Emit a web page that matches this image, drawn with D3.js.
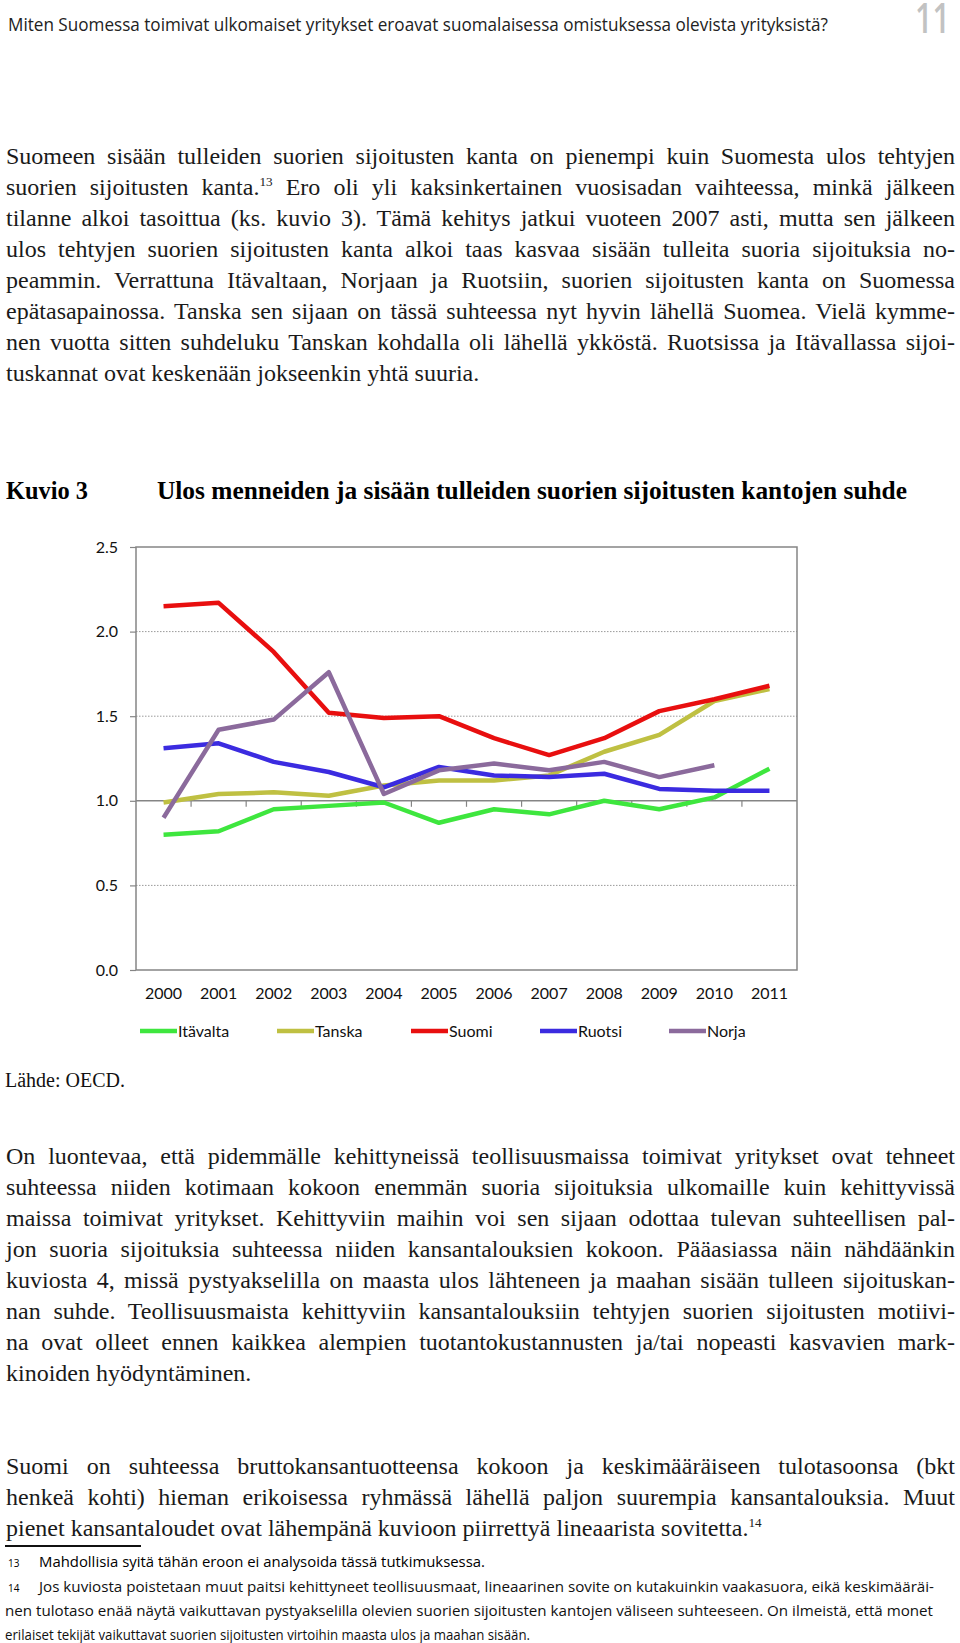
<!DOCTYPE html>
<html>
<head>
<meta charset="utf-8">
<script src="https://cdn.jsdelivr.net/npm/d3@7"></script>
<style>
  body { margin: 0; background: #fff; }
  svg { display: block; }
</style>
</head>
<body>
<div id="page"></div>
<script>
// Kuvio 3 data (OECD)
const years = [2000, 2001, 2002, 2003, 2004, 2005, 2006, 2007, 2008, 2009, 2010, 2011];
const itavalta = [0.80, 0.82, 0.95, 0.97, 0.99, 0.87, 0.95, 0.92, 1.00, 0.95, 1.02, 1.19];
const tanska   = [0.99, 1.04, 1.05, 1.03, 1.09, 1.12, 1.12, 1.15, 1.29, 1.39, 1.59, 1.66];
const suomi    = [2.15, 2.17, 1.88, 1.52, 1.49, 1.50, 1.37, 1.27, 1.37, 1.53, 1.60, 1.68];
const ruotsi   = [1.31, 1.34, 1.23, 1.17, 1.08, 1.20, 1.15, 1.14, 1.16, 1.07, 1.06, 1.06];
const norja    = [0.90, 1.42, 1.48, 1.76, 1.04, 1.18, 1.22, 1.18, 1.23, 1.14, 1.21, null];
const seriesNames = ["Itävalta", "Tanska", "Suomi", "Ruotsi", "Norja"];
const seriesColors = ["#3ee63e", "#bfc042", "#e80f0f", "#3b2be0", "#8b6a9c"];
const yTicks = [0, 0.5, 1.0, 1.5, 2.0, 2.5];

// page texts
const headerText = "Miten Suomessa toimivat ulkomaiset yritykset eroavat suomalaisessa omistuksessa olevista yrityksistä?";
const para1 = [
  "Suomeen sisään tulleiden suorien sijoitusten kanta on pienempi kuin Suomesta ulos tehtyjen",
  "suorien sijoitusten kanta.^13 Ero oli yli kaksinkertainen vuosisadan vaihteessa, minkä jälkeen",
  "tilanne alkoi tasoittua (ks. kuvio 3). Tämä kehitys jatkui vuoteen 2007 asti, mutta sen jälkeen",
  "ulos tehtyjen suorien sijoitusten kanta alkoi taas kasvaa sisään tulleita suoria sijoituksia no-",
  "peammin. Verrattuna Itävaltaan, Norjaan ja Ruotsiin, suorien sijoitusten kanta on Suomessa",
  "epätasapainossa. Tanska sen sijaan on tässä suhteessa nyt hyvin lähellä Suomea. Vielä kymme-",
  "nen vuotta sitten suhdeluku Tanskan kohdalla oli lähellä ykköstä. Ruotsissa ja Itävallassa sijoi-",
  "tuskannat ovat keskenään jokseenkin yhtä suuria."
];
const para2 = [
  "On luontevaa, että pidemmälle kehittyneissä teollisuusmaissa toimivat yritykset ovat tehneet",
  "suhteessa niiden kotimaan kokoon enemmän suoria sijoituksia ulkomaille kuin kehittyvissä",
  "maissa toimivat yritykset. Kehittyviin maihin voi sen sijaan odottaa tulevan suhteellisen pal-",
  "jon suoria sijoituksia suhteessa niiden kansantalouksien kokoon. Pääasiassa näin nähdäänkin",
  "kuviosta 4, missä pystyakselilla on maasta ulos lähteneen ja maahan sisään tulleen sijoituskan-",
  "nan suhde. Teollisuusmaista kehittyviin kansantalouksiin tehtyjen suorien sijoitusten motiivi-",
  "na ovat olleet ennen kaikkea alempien tuotantokustannusten ja/tai nopeasti kasvavien mark-",
  "kinoiden hyödyntäminen."
];
const para3 = [
  "Suomi on suhteessa bruttokansantuotteensa kokoon ja keskimääräiseen tulotasoonsa (bkt",
  "henkeä kohti) hieman erikoisessa ryhmässä lähellä paljon suurempia kansantalouksia. Muut",
  "pienet kansantaloudet ovat lähempänä kuvioon piirrettyä lineaarista sovitetta.^14"
];
const note13 = "Mahdollisia syitä tähän eroon ei analysoida tässä tutkimuksessa.";
const note14 = [
  "Jos kuviosta poistetaan muut paitsi kehittyneet teollisuusmaat, lineaarinen sovite on kutakuinkin vaakasuora, eikä keskimääräi-",
  "nen tulotaso enää näytä vaikuttavan pystyakselilla olevien suorien sijoitusten kantojen väliseen suhteeseen. On ilmeistä, että monet",
  "erilaiset tekijät vaikuttavat suorien sijoitusten virtoihin maasta ulos ja maahan sisään."
];

const width = 960, height = 1643;
const svg = d3.select("#page").append("svg")
  .attr("width", width)
  .attr("height", height);

const serif = "'Liberation Serif', 'Times New Roman', serif";
const sans = "'Open Sans', 'DejaVu Sans', sans-serif";
const chartFont = "Lato, 'Open Sans', sans-serif";

// header
svg.append("text")
  .attr("x", 8).attr("y", 31)
  .attr("font-family", sans).attr("font-size", 18)
  .attr("textLength", 820).attr("lengthAdjust", "spacingAndGlyphs")
  .attr("fill", "#222")
  .text(headerText);
// sivunumero
svg.append("text")
  .attr("x", 950).attr("y", 33)
  .attr("text-anchor", "end")
  .attr("font-family", sans).attr("font-size", 42).attr("font-weight", 600)
  .attr("textLength", 35).attr("lengthAdjust", "spacingAndGlyphs")
  .attr("fill", "#c2c2c2")
  .text("11");

// kappale: rivit tasattuna molempiin reunoihin, viimeinen rivi vasemmalle
function paragraph(lines, x0, x1, y0, step, size, font) {
  lines.forEach(function(line, i) {
    const t = svg.append("text")
      .attr("x", x0).attr("y", y0 + i * step)
      .attr("font-family", font).attr("font-size", size)
      .attr("fill", "#1a1a1a");
    const parts = line.split(/\^(\d+)/);
    let back = 0;
    parts.forEach(function(p, k) {
      if (k % 2 == 1) {
        t.append("tspan").attr("dy", -size * 0.38).attr("font-size", size * 0.55).text(p);
        back = size * 0.38;
      } else if (p.length) {
        t.append("tspan").attr("dy", back).text(p);
        back = 0;
      }
    });
    if (i < lines.length - 1) {
      const w = t.node().getComputedTextLength();
      const spaces = line.split(" ").length - 1;
      if (spaces > 0) t.attr("word-spacing", (x1 - x0 - w) / spaces);
    }
  });
}

paragraph(para1, 6, 955, 164, 31, 24, serif);

// chart title
svg.append("text")
  .attr("x", 6).attr("y", 499)
  .attr("font-family", serif).attr("font-weight", "bold").attr("font-size", 25)
  .attr("textLength", 82).attr("lengthAdjust", "spacingAndGlyphs")
  .text("Kuvio 3");
svg.append("text")
  .attr("x", 157).attr("y", 499)
  .attr("font-family", serif).attr("font-weight", "bold").attr("font-size", 25)
  .attr("textLength", 750).attr("lengthAdjust", "spacingAndGlyphs")
  .text("Ulos menneiden ja sisään tulleiden suorien sijoitusten kantojen suhde");

// plot
const plot = { left: 136, right: 797, top: 547, bottom: 970 };
const x = d3.scaleBand().domain(years).range([plot.left, plot.right]);
const y = d3.scaleLinear().domain([0, 2.5]).range([plot.bottom, plot.top]);

const chart = svg.append("g").attr("id", "chart");

// dotted gridlines
chart.selectAll("line.grid")
  .data(yTicks.filter(d => d == 0.5 || d == 1.5 || d == 2.0))
  .enter().append("line")
  .attr("class", "grid")
  .attr("x1", plot.left).attr("x2", plot.right)
  .attr("y1", d => y(d)).attr("y2", d => y(d))
  .attr("stroke", "#9a9a9a").attr("stroke-width", 1)
  .attr("stroke-dasharray", "1.5,1.5");

// plot frame
chart.append("rect")
  .attr("x", plot.left).attr("y", plot.top)
  .attr("width", plot.right - plot.left).attr("height", plot.bottom - plot.top)
  .attr("fill", "none").attr("stroke", "#858585").attr("stroke-width", 1.5);

// y axis with small outer ticks
const yAxis = d3.axisLeft(y).tickValues(yTicks).tickFormat(d3.format(".1f")).tickSize(6).tickPadding(12);
chart.append("g")
  .attr("transform", "translate(" + plot.left + ",0)")
  .call(yAxis)
  .call(g => g.select(".domain").remove())
  .call(g => g.selectAll(".tick line").attr("stroke", "#858585").attr("stroke-width", 1.2))
  .call(g => g.selectAll("text").attr("font-family", chartFont).attr("font-size", 16).attr("fill", "#111"));

// x axis crosses at 1.0, ticks between categories
const xAxisY = y(1.0);
chart.append("line")
  .attr("x1", plot.left).attr("x2", plot.right)
  .attr("y1", xAxisY).attr("y2", xAxisY)
  .attr("stroke", "#858585").attr("stroke-width", 1.5);
chart.selectAll("line.xtick")
  .data(years.slice(1))
  .enter().append("line")
  .attr("class", "xtick")
  .attr("x1", d => x(d)).attr("x2", d => x(d))
  .attr("y1", xAxisY).attr("y2", xAxisY + 6)
  .attr("stroke", "#858585").attr("stroke-width", 1.2);

// x labels at the bottom
const xAxis = d3.axisBottom(x).tickSize(0).tickPadding(18);
chart.append("g")
  .attr("transform", "translate(0," + plot.bottom + ")")
  .call(xAxis)
  .call(g => g.select(".domain").remove())
  .call(g => g.selectAll("text").attr("font-family", chartFont).attr("font-size", 16).attr("fill", "#111"));

// lines
const seriesData = [itavalta, tanska, suomi, ruotsi, norja];
const line = d3.line()
  .defined(d => d.v != null)
  .x(d => x(d.year) + x.bandwidth() / 2)
  .y(d => y(d.v));

chart.selectAll("path.series")
  .data(seriesData)
  .enter().append("path")
  .attr("class", "series")
  .attr("d", vals => line(vals.map((v, i) => ({ year: years[i], v: v }))))
  .attr("fill", "none")
  .attr("stroke", (d, i) => seriesColors[i])
  .attr("stroke-width", 4.5)
  .attr("stroke-linejoin", "round");

// legend
const legendX = [140, 277, 411, 540, 669];
const legend = chart.selectAll("g.legend")
  .data(seriesNames)
  .enter().append("g")
  .attr("class", "legend")
  .attr("transform", (d, i) => "translate(" + legendX[i] + ",1031)");
legend.append("line")
  .attr("x1", 0).attr("x2", 37).attr("y1", 0).attr("y2", 0)
  .attr("stroke", (d, i) => seriesColors[i]).attr("stroke-width", 4.5);
legend.append("text")
  .attr("x", 38).attr("y", 6)
  .attr("font-family", chartFont).attr("font-size", 16).attr("fill", "#111")
  .text(d => d);

// source
svg.append("text")
  .attr("x", 5).attr("y", 1087)
  .attr("font-family", serif).attr("font-size", 20)
  .attr("fill", "#111")
  .text("Lähde: OECD.");

paragraph(para2, 6, 955, 1164, 31, 24, serif);
paragraph(para3, 6, 955, 1474, 31, 24, serif);

// footnotes
svg.append("line")
  .attr("x1", 5).attr("x2", 141).attr("y1", 1546).attr("y2", 1546)
  .attr("stroke", "#111").attr("stroke-width", 2);

const fnFont = sans;
svg.append("text").attr("x", 8).attr("y", 1567)
  .attr("font-family", fnFont).attr("font-size", 10).text("13");
svg.append("text").attr("x", 39).attr("y", 1567)
  .attr("font-family", fnFont).attr("font-size", 14.5)
  .attr("textLength", 446).attr("lengthAdjust", "spacingAndGlyphs")
  .text(note13);
svg.append("text").attr("x", 8).attr("y", 1592)
  .attr("font-family", fnFont).attr("font-size", 10).text("14");
const fnLen = [895, 928, 525];
note14.forEach(function(l, i) {
  svg.append("text")
    .attr("x", i == 0 ? 39 : 5).attr("y", 1592 + i * 24)
    .attr("font-family", fnFont).attr("font-size", 14.5)
    .attr("textLength", fnLen[i]).attr("lengthAdjust", "spacingAndGlyphs")
    .attr("fill", "#111")
    .text(l);
});
</script>
</body>
</html>
